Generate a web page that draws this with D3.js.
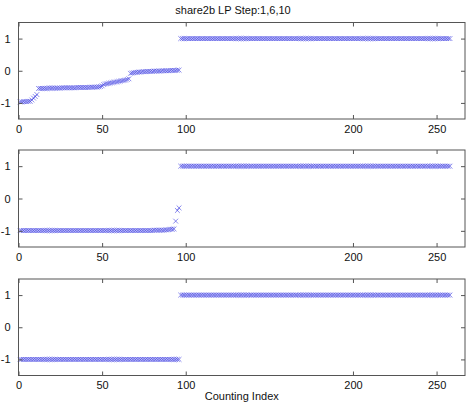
<!DOCTYPE html>
<html><head><meta charset="utf-8">
<script src="https://cdn.jsdelivr.net/npm/d3@7"></script>
<style>body{margin:0;background:#fff}svg{display:block}</style>
</head><body>
<script>
const title = "share2b LP Step:1,6,10";
const xLabel = "Counting Index";
const xTicks = [0, 50, 100, 200, 250];
const yTicks = [-1, 0, 1];

// Step 1
const series1 = [
-0.97,-0.97,-0.96,-0.96,-0.96,-0.95,-0.95,
-0.91,-0.85,-0.80,-0.74,
-0.55,-0.55,-0.55,-0.55,-0.55,-0.55,-0.54,-0.54,-0.54,-0.54,-0.54,-0.54,-0.54,-0.54,-0.53,-0.53,-0.53,-0.53,-0.53,-0.53,-0.53,-0.53,-0.53,-0.52,-0.52,-0.52,-0.52,-0.52,-0.52,-0.52,-0.52,-0.51,-0.51,-0.51,-0.51,-0.51,
-0.50,-0.49,-0.47,
-0.43,-0.41,-0.40,-0.39,-0.38,-0.37,-0.36,-0.35,-0.34,-0.33,-0.32,-0.31,-0.30,-0.29,-0.27,-0.25,
-0.08,-0.07,-0.06,-0.05,-0.05,-0.04,-0.04,-0.03,-0.03,-0.03,-0.02,-0.02,-0.02,-0.02,-0.01,-0.01,-0.01,-0.01,-0.01,0.00,0.00,0.00,0.00,0.00,0.01,0.01,0.01,0.01,0.02,0.02,
1,1,1,1,1,1,1,1,1,1,1,1,1,1,1,1,1,1,
1,1,1,1,1,1,1,1,1,1,1,1,1,1,1,1,1,1,
1,1,1,1,1,1,1,1,1,1,1,1,1,1,1,1,1,1,
1,1,1,1,1,1,1,1,1,1,1,1,1,1,1,1,1,1,
1,1,1,1,1,1,1,1,1,1,1,1,1,1,1,1,1,1,
1,1,1,1,1,1,1,1,1,1,1,1,1,1,1,1,1,1,
1,1,1,1,1,1,1,1,1,1,1,1,1,1,1,1,1,1,
1,1,1,1,1,1,1,1,1,1,1,1,1,1,1,1,1,1,
1,1,1,1,1,1,1,1,1,1,1,1,1,1,1,1,1,1
];

// Step 6
const series2 = [
-0.99,-0.99,-0.99,-0.99,-0.99,-0.99,-0.99,-0.99,-0.99,-0.99,-0.99,-0.99,-0.99,-0.99,-0.99,-0.99,
-0.99,-0.99,-0.99,-0.99,-0.99,-0.99,-0.99,-0.99,-0.99,-0.99,-0.99,-0.99,-0.99,-0.99,-0.99,-0.99,
-0.99,-0.99,-0.99,-0.99,-0.99,-0.99,-0.99,-0.99,-0.99,-0.99,-0.99,-0.99,-0.99,-0.99,-0.99,-0.99,
-0.99,-0.99,-0.99,-0.99,-0.99,-0.99,-0.99,-0.99,-0.99,-0.99,-0.99,-0.99,-0.99,-0.99,-0.99,-0.99,
-0.99,-0.99,-0.99,-0.99,-0.99,-0.99,-0.99,-0.99,-0.99,-0.99,-0.99,-0.99,-0.99,-0.99,-0.99,-0.99,
-0.98,-0.98,-0.98,-0.98,-0.98,-0.98,-0.98,
-0.97,-0.97,-0.96,-0.95,-0.95,-0.94,
-0.70,-0.37,-0.29,
1,1,1,1,1,1,1,1,1,1,1,1,1,1,1,1,1,1,
1,1,1,1,1,1,1,1,1,1,1,1,1,1,1,1,1,1,
1,1,1,1,1,1,1,1,1,1,1,1,1,1,1,1,1,1,
1,1,1,1,1,1,1,1,1,1,1,1,1,1,1,1,1,1,
1,1,1,1,1,1,1,1,1,1,1,1,1,1,1,1,1,1,
1,1,1,1,1,1,1,1,1,1,1,1,1,1,1,1,1,1,
1,1,1,1,1,1,1,1,1,1,1,1,1,1,1,1,1,1,
1,1,1,1,1,1,1,1,1,1,1,1,1,1,1,1,1,1,
1,1,1,1,1,1,1,1,1,1,1,1,1,1,1,1,1,1
];

// Step 10
const series3 = [
-1,-1,-1,-1,-1,-1,-1,-1,-1,-1,-1,-1,-1,-1,-1,-1,
-1,-1,-1,-1,-1,-1,-1,-1,-1,-1,-1,-1,-1,-1,-1,-1,
-1,-1,-1,-1,-1,-1,-1,-1,-1,-1,-1,-1,-1,-1,-1,-1,
-1,-1,-1,-1,-1,-1,-1,-1,-1,-1,-1,-1,-1,-1,-1,-1,
-1,-1,-1,-1,-1,-1,-1,-1,-1,-1,-1,-1,-1,-1,-1,-1,
-1,-1,-1,-1,-1,-1,-1,-1,-1,-1,-1,-1,-1,-1,-1,-1,
1,1,1,1,1,1,1,1,1,1,1,1,1,1,1,1,1,1,
1,1,1,1,1,1,1,1,1,1,1,1,1,1,1,1,1,1,
1,1,1,1,1,1,1,1,1,1,1,1,1,1,1,1,1,1,
1,1,1,1,1,1,1,1,1,1,1,1,1,1,1,1,1,1,
1,1,1,1,1,1,1,1,1,1,1,1,1,1,1,1,1,1,
1,1,1,1,1,1,1,1,1,1,1,1,1,1,1,1,1,1,
1,1,1,1,1,1,1,1,1,1,1,1,1,1,1,1,1,1,
1,1,1,1,1,1,1,1,1,1,1,1,1,1,1,1,1,1,
1,1,1,1,1,1,1,1,1,1,1,1,1,1,1,1,1,1
];

const W = 466, H = 403;
const left = 18.5, right = 465;
const panels = [
  {data: series1, top: 22.5, bottom: 119},
  {data: series2, top: 150, bottom: 247},
  {data: series3, top: 279, bottom: 375.5}
];
const font = "'Liberation Sans', Arial, sans-serif";
const axisColor = "#555";
const fmt = d => String(d);

const svg = d3.select("body").append("svg").attr("width", W).attr("height", H);

svg.append("text").attr("x", 233).attr("y", 14).attr("text-anchor", "middle")
  .attr("font-family", font).attr("font-size", 11).attr("fill", "#111").text(title);

const x = d3.scaleLinear().domain([0, 267]).range([left, right]);
const markerPath = "M-2.4,-2.4L2.4,2.4M-2.4,2.4L2.4,-2.4";

panels.forEach(p => {
  const y = d3.scaleLinear().domain([-1.5, 1.5]).range([p.bottom, p.top]);
  const g = svg.append("g");
  g.append("rect").attr("x", left).attr("y", p.top).attr("width", right - left).attr("height", p.bottom - p.top)
    .attr("fill", "#fff");

  g.append("g").selectAll("path").data(p.data).join("path")
    .attr("transform", (d, i) => `translate(${x(i + 1)},${y(d)})`)
    .attr("d", markerPath)
    .attr("stroke", "#3a3ae0").attr("stroke-width", 0.6).attr("fill", "none");

  const ax = g.append("g");
  const bx = d3.axisBottom(x).tickValues(xTicks).tickFormat(fmt).tickSizeInner(-4).tickSizeOuter(0).tickPadding(6);
  const gb = ax.append("g").attr("transform", `translate(0,${p.bottom})`).call(bx);
  gb.select(".domain").remove();
  gb.selectAll("line").attr("stroke", axisColor);
  gb.selectAll("text").attr("fill", "#111").attr("font-family", font).attr("font-size", 11);

  const tx = d3.axisTop(x).tickValues(xTicks).tickSizeInner(-4).tickSizeOuter(0).tickFormat("");
  const gt = ax.append("g").attr("transform", `translate(0,${p.top})`).call(tx);
  gt.select(".domain").remove();
  gt.selectAll("line").attr("stroke", axisColor);

  const ly = d3.axisLeft(y).tickValues(yTicks).tickFormat(fmt).tickSizeInner(-4).tickSizeOuter(0).tickPadding(8);
  const gl = ax.append("g").attr("transform", `translate(${left},0)`).call(ly);
  gl.select(".domain").remove();
  gl.selectAll("line").attr("stroke", axisColor);
  gl.selectAll("text").attr("fill", "#111").attr("font-family", font).attr("font-size", 11);

  const ry = d3.axisRight(y).tickValues(yTicks).tickSizeInner(-4).tickSizeOuter(0).tickFormat("");
  const gr = ax.append("g").attr("transform", `translate(${right},0)`).call(ry);
  gr.select(".domain").remove();
  gr.selectAll("line").attr("stroke", axisColor);

  g.append("rect").attr("x", left).attr("y", p.top).attr("width", right - left).attr("height", p.bottom - p.top)
    .attr("fill", "none").attr("stroke", axisColor).attr("stroke-width", 1);
});

svg.append("text").attr("x", (left + right) / 2).attr("y", 400).attr("text-anchor", "middle")
  .attr("font-family", font).attr("font-size", 11).attr("fill", "#111").text(xLabel);
</script>
</body></html>
